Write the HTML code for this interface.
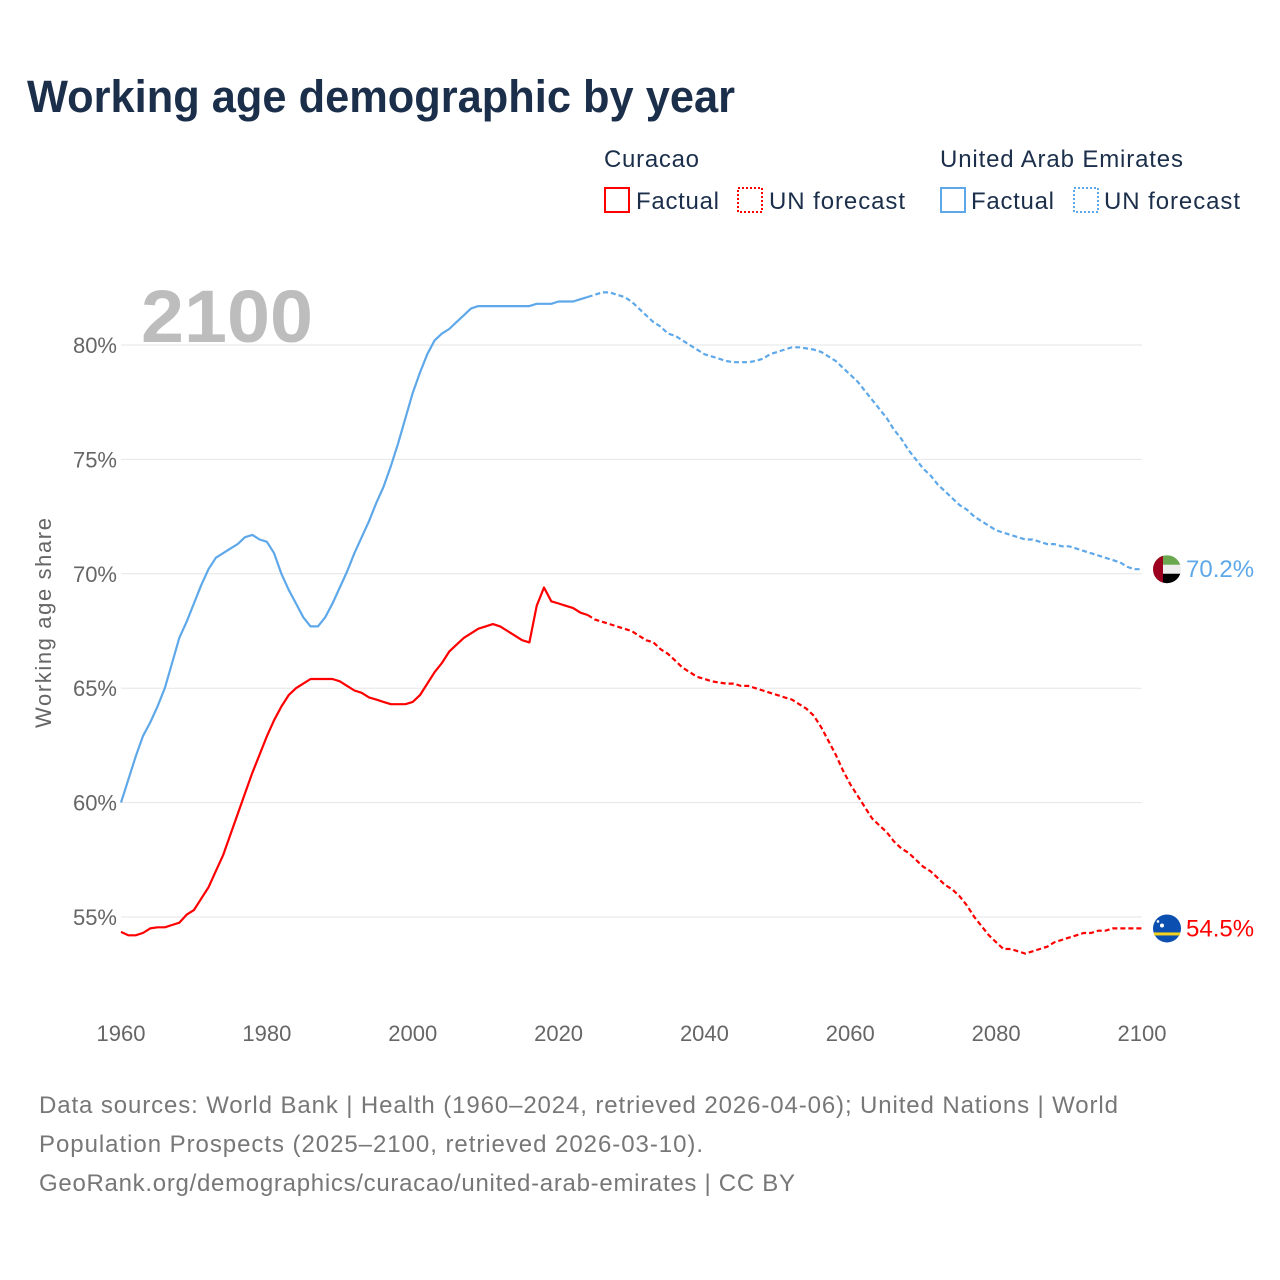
<!DOCTYPE html>
<html><head><meta charset="utf-8">
<style>
body{margin:0;background:#fff;font-family:"Liberation Sans",sans-serif;}
svg{display:block}
</style></head>
<body>
<svg id="chart" width="1280" height="1280" viewBox="0 0 1280 1280">
<text x="27" y="112" font-size="45" font-weight="bold" fill="#1b2f4b" textLength="708" lengthAdjust="spacingAndGlyphs">Working age demographic by year</text>
<g font-size="24" fill="#1b2f4b">
<text x="604" y="167" textLength="95">Curacao</text>
<rect x="605" y="188" width="24" height="24" fill="none" stroke="#ff0000" stroke-width="2"/>
<text x="636" y="209" textLength="83">Factual</text>
<rect x="738" y="188" width="24" height="24" fill="none" stroke="#ff0000" stroke-width="2" stroke-dasharray="2 2"/>
<text x="769" y="209" textLength="136">UN forecast</text>
<text x="940" y="167" textLength="243">United Arab Emirates</text>
<rect x="941" y="188" width="24" height="24" fill="none" stroke="#5ea8ea" stroke-width="2"/>
<text x="971" y="209" textLength="83">Factual</text>
<rect x="1074" y="188" width="24" height="24" fill="none" stroke="#5ea8ea" stroke-width="2" stroke-dasharray="2 2"/>
<text x="1104" y="209" textLength="136">UN forecast</text>
</g>
<text x="141" y="342" font-size="74" font-weight="bold" fill="#bdbdbd" textLength="172" lengthAdjust="spacingAndGlyphs">2100</text>
<text transform="translate(51,623) rotate(-90)" text-anchor="middle" font-size="22" fill="#666" textLength="210">Working age share</text>
<g id="grid"></g><g id="lines"></g><g id="ends"></g>
<g font-size="24" fill="#777">
<text x="39" y="1113" textLength="1079">Data sources: World Bank | Health (1960–2024, retrieved 2026-04-06); United Nations | World</text>
<text x="39" y="1152" textLength="664">Population Prospects (2025–2100, retrieved 2026-03-10).</text>
<text x="39" y="1191" textLength="756">GeoRank.org/demographics/curacao/united-arab-emirates | CC BY</text>
</g>
</svg>
<script>
const yTicks=[55,60,65,70,75,80];
const xTicks=[1960,1980,2000,2020,2040,2060,2080,2100];
const startYear=1960;
const lastFactualYear=2024;
const uae=[60.0,61.0,62.0,62.9,63.5,64.2,65.0,66.1,67.2,67.9,68.7,69.5,70.2,70.7,70.9,71.1,71.3,71.6,71.7,71.5,71.4,70.9,70.0,69.3,68.7,68.1,67.7,67.7,68.1,68.7,69.4,70.1,70.9,71.6,72.3,73.1,73.8,74.7,75.7,76.8,77.9,78.8,79.6,80.2,80.5,80.7,81.0,81.3,81.6,81.7,81.7,81.7,81.7,81.7,81.7,81.7,81.7,81.8,81.8,81.8,81.9,81.9,81.9,82.0,82.1,82.2,82.3,82.3,82.2,82.1,81.9,81.6,81.3,81.0,80.8,80.5,80.4,80.2,80.0,79.8,79.6,79.5,79.4,79.3,79.25,79.25,79.25,79.3,79.4,79.6,79.7,79.8,79.9,79.9,79.85,79.8,79.7,79.5,79.3,79.0,78.7,78.4,78.0,77.6,77.2,76.8,76.3,75.9,75.4,75.0,74.6,74.3,73.9,73.6,73.3,73.0,72.8,72.5,72.3,72.1,71.9,71.8,71.7,71.6,71.5,71.5,71.4,71.3,71.3,71.2,71.2,71.1,71.0,70.9,70.8,70.7,70.6,70.5,70.3,70.2,70.2];
const curacao=[54.35,54.2,54.2,54.3,54.5,54.55,54.55,54.65,54.75,55.1,55.3,55.8,56.3,57.0,57.7,58.6,59.5,60.4,61.3,62.1,62.9,63.6,64.2,64.7,65.0,65.2,65.4,65.4,65.4,65.4,65.3,65.1,64.9,64.8,64.6,64.5,64.4,64.3,64.3,64.3,64.4,64.7,65.2,65.7,66.1,66.6,66.9,67.2,67.4,67.6,67.7,67.8,67.7,67.5,67.3,67.1,67.0,68.6,69.4,68.8,68.7,68.6,68.5,68.3,68.2,68.0,67.9,67.8,67.7,67.6,67.5,67.3,67.1,67.0,66.7,66.5,66.2,65.9,65.7,65.5,65.4,65.3,65.25,65.2,65.2,65.1,65.1,65.0,64.9,64.8,64.7,64.6,64.5,64.3,64.1,63.8,63.3,62.7,62.1,61.4,60.8,60.3,59.8,59.3,59.0,58.7,58.3,58.0,57.8,57.5,57.2,57.0,56.7,56.4,56.2,55.9,55.5,55.0,54.6,54.2,53.9,53.6,53.6,53.5,53.4,53.5,53.6,53.7,53.9,54.0,54.1,54.2,54.3,54.3,54.4,54.4,54.5,54.5,54.5,54.5,54.5];
const NS="http://www.w3.org/2000/svg";
function x(yr){return 121+(yr-1960)*(1142-121)/140;}
function y(v){return 917-(v-55)*(917-345)/25;}
function mk(t,a,p){const e=document.createElementNS(NS,t);for(const k in a)e.setAttribute(k,a[k]);p.appendChild(e);return e;}
const grid=document.getElementById('grid');
yTicks.forEach(v=>{
 const l=mk('line',{x1:121,x2:1142,y1:y(v),y2:y(v),stroke:'#e6e6e6','stroke-width':1},grid);
 
 
 const t=mk('text',{x:117,y:y(v)+8,'text-anchor':'end','font-size':22,fill:'#666'},grid);
 t.textContent=v+'%';
 
 
});
xTicks.forEach(v=>{
 const t=mk('text',{x:x(v),y:1041,'text-anchor':'middle','font-size':22,fill:'#666'},grid);
 t.textContent=v;
 
 
});
const lines=document.getElementById('lines');
function series(arr,color,name){
 const cut=lastFactualYear-startYear;
 let d1='',d2='';
 arr.forEach((v,i)=>{const pt=x(startYear+i).toFixed(1)+','+y(v).toFixed(1);
  if(i<=cut)d1+=(i?'L':'M')+pt;
  if(i>=cut)d2+=(i==cut?'M':'L')+pt;});
 const a=mk('path',{d:d1,fill:'none',stroke:color,'stroke-width':2.2,'stroke-linejoin':'round'},lines);
 
 
 const b=mk('path',{d:d2,fill:'none',stroke:color,'stroke-width':2.2,'stroke-dasharray':'5 3'},lines);
 
 
 const lv=arr[arr.length-1];
 const t=mk('text',{x:1186,y:y(lv)+8,'font-size':24,fill:color},document.getElementById('ends'));
 t.textContent=lv.toFixed(1)+'%';
 
 
 return y(lv);
}
const yu=series(uae,'#5ea8ea','uae');
const yc=series(curacao,'#ff0000','curacao');
const ends=document.getElementById('ends');
const fu=mk('g',{},ends);


mk('clipPath',{id:'cu'},fu).appendChild((()=>{const c=document.createElementNS(NS,'circle');c.setAttribute('cx',1167);c.setAttribute('cy',yu);c.setAttribute('r',14);return c;})());
const gu=mk('g',{'clip-path':'url(#cu)'},fu);
mk('rect',{x:1153,y:yu-14,width:28,height:10,fill:'#6aa84f'},gu);
mk('rect',{x:1153,y:yu-4.5,width:28,height:9,fill:'#eeeeee'},gu);
mk('rect',{x:1153,y:yu+4.5,width:28,height:10,fill:'#000'},gu);
mk('rect',{x:1153,y:yu-14,width:10,height:28,fill:'#9e0020'},gu);
const fc=mk('g',{},ends);


mk('circle',{cx:1167,cy:yc,r:14,fill:'#0b4fb0'},fc);
mk('rect',{x:1154,y:yc+4,width:26,height:3,fill:'#f4d31f'},fc);
mk('circle',{cx:1162,cy:yc-3,r:2,fill:'#fff'},fc);
mk('circle',{cx:1158,cy:yc-7,r:1.3,fill:'#fff'},fc);
</script>
</body></html>
